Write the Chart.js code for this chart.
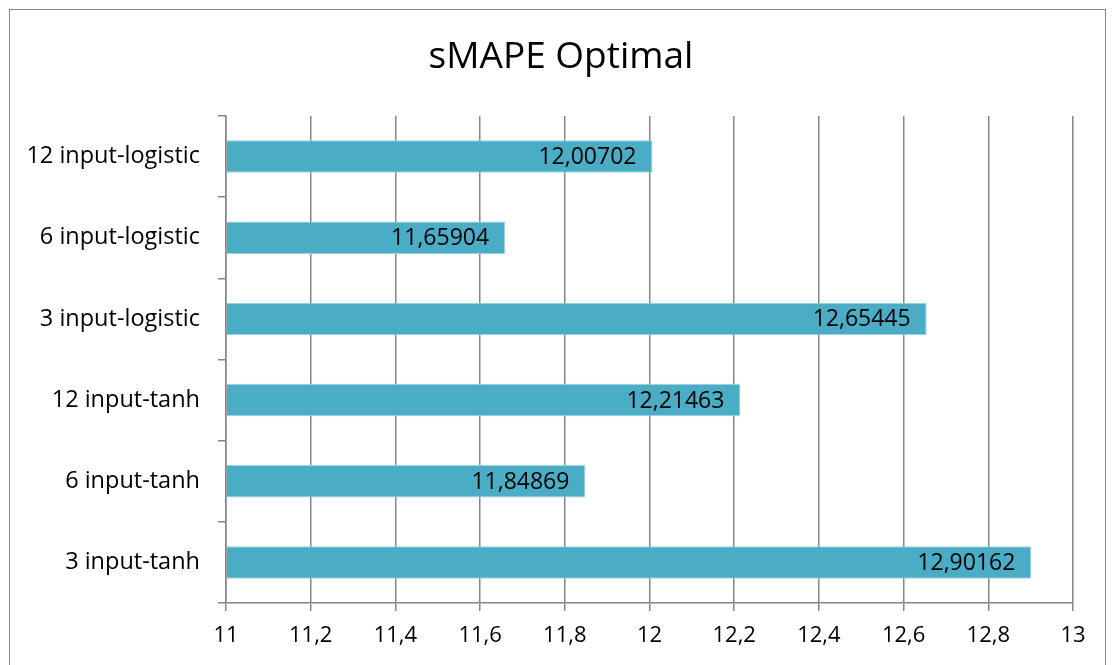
<!DOCTYPE html>
<html>
<head>
<meta charset="utf-8">
<script src="https://cdn.jsdelivr.net/npm/chart.js@4"></script>
<style>
  html, body { margin: 0; padding: 0; background: #fff; }
  #wrap { width: 1114px; height: 665px; position: relative; }
</style>
</head>
<body>
<div id="wrap"><canvas id="myChart" width="1114" height="665"></canvas></div>
<script>
// values
var categories = [
  "12 input-logistic",
  "6 input-logistic",
  "3 input-logistic",
  "12 input-tanh",
  "6 input-tanh",
  "3 input-tanh",
];
var smapeValues = [12.00702, 11.65904, 12.65445, 12.21463, 11.84869, 12.90162];
var valueLabels = ["12,00702", "11,65904", "12,65445", "12,21463", "11,84869", "12,90162"];
var chartTitle = "sMAPE Optimal";
var xMin = 11;
var xMax = 13;
var xStep = 0.2;

var FONT = "'Open Sans', 'Noto Sans', sans-serif";

// outer frame + title centred on the frame (like the office chart)
var framePlugin = {
  id: "frame",
  beforeDraw: function (chart) {
    var ctx = chart.ctx;
    ctx.save();
    ctx.fillStyle = "#fff";
    ctx.fillRect(0, 0, chart.width, chart.height);
    ctx.strokeStyle = "#868686";
    ctx.lineWidth = 1;
    ctx.strokeRect(9.5, 9.5, chart.width - 18, chart.height + 20);
    ctx.font = "37px " + FONT;
    ctx.fillStyle = "#000";
    ctx.textAlign = "center";
    ctx.textBaseline = "middle";
    ctx.fillText(chartTitle, 561, 57);
    ctx.restore();
  },
};

// value labels inside the bar end
var labelPlugin = {
  id: "valueLabels",
  afterDatasetsDraw: function (chart) {
    var ctx = chart.ctx;
    var meta = chart.getDatasetMeta(0);
    ctx.save();
    ctx.font = "23px " + FONT;
    ctx.fillStyle = "#000";
    ctx.textAlign = "right";
    ctx.textBaseline = "middle";
    meta.data.forEach(function (bar, i) {
      ctx.fillText(valueLabels[i], bar.x - 16, bar.y + 1);
    });
    ctx.restore();
  },
};

new Chart("myChart", {
  type: "bar",
  data: {
    labels: categories,
    datasets: [
      {
        data: smapeValues,
        backgroundColor: "#4BACC6",
        borderColor: "#9fd3e1",
        borderWidth: 1,
        borderSkipped: "start",
        categoryPercentage: 1,
        barPercentage: 0.4,
        base: xMin,
      },
    ],
  },
  options: {
    indexAxis: "y",
    responsive: false,
    animation: false,
    layout: { padding: { left: 0, right: 41, top: 116, bottom: 0 } },
    plugins: {
      legend: { display: false },
      tooltip: { enabled: false },
      title: { display: false },
    },
    scales: {
      x: {
        min: xMin,
        max: xMax,
        afterFit: function (s) {
          s.height = 62;
        },
        afterBuildTicks: function (s) {
          var t = [];
          for (var v = 0; v <= Math.round((xMax - xMin) / xStep); v++) {
            t.push({ value: +(xMin + v * xStep).toFixed(1) });
          }
          s.ticks = t;
        },
        ticks: {
          color: "#000",
          font: { family: FONT, size: 22 },
          padding: 12,
          maxRotation: 0,
          callback: function (v) {
            return String(+v.toFixed(1)).replace(".", ",");
          },
        },
        grid: { color: "#868686", lineWidth: 1.5, tickLength: 8 },
        border: { color: "#868686", width: 1.5 },
      },
      y: {
        afterFit: function (s) {
          s.width = 226;
        },
        ticks: {
          color: "#000",
          font: { family: FONT, size: 23.5 },
          padding: 18,
        },
        grid: {
          offset: true,
          drawOnChartArea: false,
          color: "#868686",
          lineWidth: 1.5,
          tickLength: 8,
        },
        border: { color: "#868686", width: 1.5 },
      },
    },
  },
  plugins: [framePlugin, labelPlugin],
});
</script>
</body>
</html>
